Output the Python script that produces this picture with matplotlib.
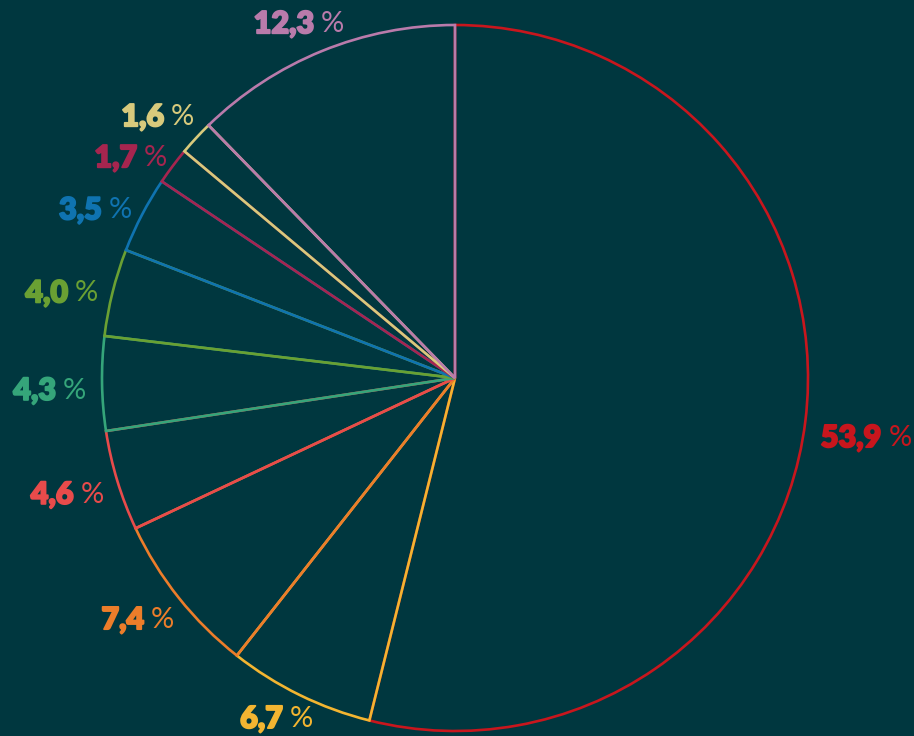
import numpy as np
from matplotlib import pyplot as plt
from matplotlib import patheffects as pe

# Datos del gráfico (porcentajes, en sentido horario desde arriba)
valores = [53.9, 6.7, 7.4, 4.6, 4.3, 4.0, 3.5, 1.7, 1.6, 12.3]
etiquetas = ["53,9", "6,7", "7,4", "4,6", "4,3", "4,0", "3,5", "1,7", "1,6", "12,3"]
colores = ["#c8161d", "#f3b531", "#ec7d2a", "#e84b4b", "#35a57a",
           "#6aa033", "#0f73b0", "#a6254f", "#d8ca7c", "#b97bab"]

fondo = "#00373f"
W, H = 914, 736
cx, cy, radio = 455, H - 378, 353

fig = plt.figure(figsize=(W / 100, H / 100), dpi=100, facecolor=fondo)
ax = fig.add_axes([0, 0, 1, 1])
ax.set_facecolor(fondo)
ax.axis("off")

cunas, _ = ax.pie(valores, colors=colores, startangle=90, counterclock=False,
                  center=(cx, cy), radius=radio, normalize=True,
                  wedgeprops=dict(linewidth=1.9))
for c, col in zip(cunas, colores):
    c.set_facecolor("none")
    c.set_edgecolor(col)
    c.set_clip_on(False)
ax.set_xlim(0, W)
ax.set_ylim(0, H)
ax.set_aspect("auto")

# Etiquetas: número en negrita + "%" fino
fig.canvas.draw()
rend = fig.canvas.get_renderer()
for c, txt, col in zip(cunas, etiquetas, colores):
    ang = np.deg2rad((c.theta1 + c.theta2) / 2)
    s, co = np.sin(ang), np.cos(ang)
    px = cx + 1.045 * radio * co
    py = cy + 1.03 * radio * s
    t1 = ax.text(0, 0, txt, color=col, fontsize=22, fontfamily="Lato",
                 fontweight="heavy", va="center", ha="left",
                 path_effects=[pe.withStroke(linewidth=1.3, foreground=col)])
    t2 = ax.text(0, 0, "%", color=col, fontsize=21, fontfamily="Lato",
                 fontweight="normal", va="center", ha="left")
    w1 = t1.get_window_extent(rend).width
    w2 = t2.get_window_extent(rend).width
    hh = t1.get_window_extent(rend).height
    gap = 7
    ancho = w1 + gap + w2
    # pequeño ajuste vertical según la posición
    if s > 0.65:
        dy = 4
    elif s < -0.65:
        dy = -2
    elif co > 0.9:
        dy = -14
    else:
        dy = -7
    gx = px + co * ancho / 2
    gy = py + s * hh / 2 + dy
    t1.set_position((gx - ancho / 2, gy))
    t2.set_position((gx - ancho / 2 + w1 + gap, gy))

fig.savefig("out.png", dpi=100, facecolor=fondo)
